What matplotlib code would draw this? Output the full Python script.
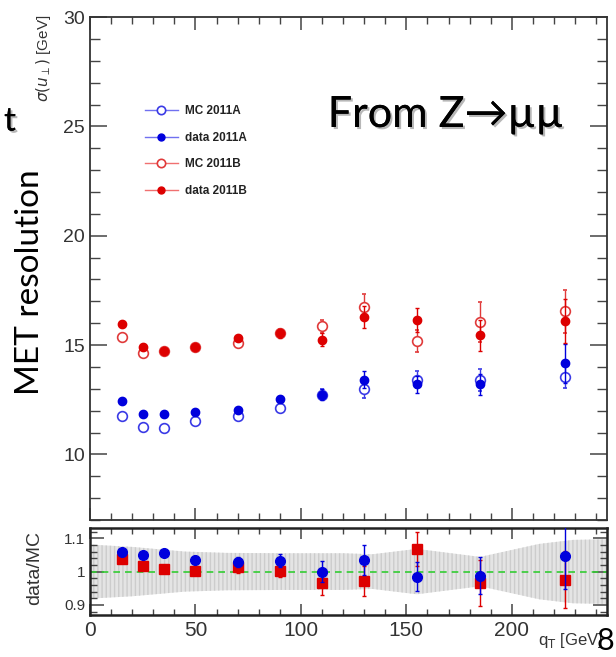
import matplotlib
matplotlib.use("Agg")
import matplotlib.pyplot as plt
import matplotlib.patheffects as pe
from matplotlib.lines import Line2D
from matplotlib.ticker import MultipleLocator

plt.rcParams['font.family'] = ['Liberation Sans', 'DejaVu Sans']

# bin centres in q_T [GeV]
qt = [15, 25, 35, 50, 70, 90, 110, 130, 155, 185, 225]

# sigma(u_perp) [GeV]
mc_a = [11.75, 11.26, 11.22, 11.55, 11.75, 12.10, 12.74, 12.97, 13.42, 13.39, 13.55]
mc_a_err = [0.05, 0.05, 0.05, 0.05, 0.08, 0.12, 0.25, 0.40, 0.40, 0.50, 0.50]
data_a = [12.43, 11.84, 11.84, 11.95, 12.04, 12.53, 12.74, 13.42, 13.20, 13.20, 14.17]
data_a_err = [0.05, 0.05, 0.05, 0.05, 0.08, 0.12, 0.25, 0.40, 0.40, 0.50, 0.90]
mc_b = [15.37, 14.66, 14.72, 14.90, 15.11, 15.55, 15.86, 16.74, 15.19, 16.06, 16.54]
mc_b_err = [0.05, 0.08, 0.08, 0.08, 0.10, 0.20, 0.30, 0.60, 0.50, 0.90, 1.00]
data_b = [15.95, 14.90, 14.72, 14.90, 15.31, 15.54, 15.25, 16.27, 16.15, 15.45, 16.09]
data_b_err = [0.05, 0.08, 0.08, 0.08, 0.10, 0.20, 0.30, 0.50, 0.55, 0.70, 1.00]

# data/MC ratios
ratio_a = [1.058, 1.051, 1.055, 1.035, 1.028, 1.033, 1.000, 1.035, 0.985, 0.988, 1.048]
ratio_a_err = [0.005, 0.005, 0.005, 0.006, 0.015, 0.020, 0.032, 0.045, 0.043, 0.056, 0.100]
ratio_b = [1.038, 1.018, 1.008, 1.001, 1.013, 1.003, 0.966, 0.971, 1.068, 0.966, 0.976]
ratio_b_err = [0.006, 0.006, 0.006, 0.008, 0.016, 0.020, 0.035, 0.045, 0.050, 0.070, 0.085]

# systematic band around 1
band_q = [0, 20, 45, 65, 92, 120, 134, 155, 185, 213, 229, 245]
band_half = [0.081, 0.074, 0.060, 0.056, 0.055, 0.055, 0.052, 0.068, 0.044, 0.083, 0.095, 0.097]

BLUE = '#0000dd'
BLUE_MC = '#3a3ae6'
RED = '#dd0000'
RED_MC = '#e03a3a'
TXT = '#333333'

fig = plt.figure(figsize=(6.16, 6.57), dpi=100)
ax = fig.add_axes([0.146, 0.2085, 0.839, 0.7655])
axr = fig.add_axes([0.146, 0.064, 0.839, 0.132])

# upper panel
ax.errorbar(qt, mc_a, yerr=mc_a_err, fmt='o', ms=7, mfc='white', mec=BLUE_MC,
            mew=1.2, ecolor=BLUE_MC, elinewidth=1, capsize=1.5, zorder=3)
ax.errorbar(qt, data_a, yerr=data_a_err, fmt='o', ms=6, color=BLUE,
            elinewidth=1, capsize=1.5, zorder=4)
ax.errorbar(qt, mc_b, yerr=mc_b_err, fmt='o', ms=7, mfc='white', mec=RED_MC,
            mew=1.2, ecolor=RED_MC, elinewidth=1, capsize=1.5, zorder=3)
ax.errorbar(qt, data_b, yerr=data_b_err, fmt='o', ms=6, color=RED,
            elinewidth=1, capsize=1.5, zorder=4)

ax.set_xlim(0, 245)
ax.set_ylim(7, 30)
ax.xaxis.set_major_locator(MultipleLocator(50))
ax.xaxis.set_minor_locator(MultipleLocator(10))
ax.yaxis.set_major_locator(MultipleLocator(5))
ax.yaxis.set_minor_locator(MultipleLocator(1))
ax.tick_params(which='both', direction='in', top=True, right=True,
               labelbottom=False, labelsize=14, labelcolor=TXT, color='#444444')
ax.tick_params(axis='y', which='major', length=12, width=1.1)
ax.tick_params(axis='y', which='minor', length=7, width=1)
ax.tick_params(axis='x', which='major', length=9, width=1.1)
ax.tick_params(axis='x', which='minor', length=5, width=1)
ax.set_yticks([10, 15, 20, 25, 30])
for s in ax.spines.values():
    s.set_linewidth(1.3)
    s.set_color('#333333')

fig.text(0.071, 0.978, r'$\sigma(u_{\perp})$ [GeV]', rotation=90, ha='center',
         va='top', fontsize=11, color=TXT)

handles = [
    Line2D([], [], color='#7070f0', lw=1, marker='o', ms=6, mfc='white', mec=BLUE_MC, mew=1.2),
    Line2D([], [], color='#7070f0', lw=1, marker='o', ms=5, mfc=BLUE, mec=BLUE),
    Line2D([], [], color='#f07070', lw=1, marker='o', ms=6, mfc='white', mec=RED_MC, mew=1.2),
    Line2D([], [], color='#f07070', lw=1, marker='o', ms=5, mfc=RED, mec=RED),
]
labels = ['MC 2011A', 'data 2011A', 'MC 2011B', 'data 2011B']
leg = ax.legend(handles, labels, loc='upper left', bbox_to_anchor=(0.095, 0.837),
                frameon=False, handlelength=2.8, handletextpad=0.6,
                labelspacing=1.25, borderpad=0, prop={'weight': 'bold', 'size': 8.5})
for t in leg.get_texts():
    t.set_color('#222222')

# ratio panel
axr.fill_between(band_q, [1 - h for h in band_half], [1 + h for h in band_half],
                 facecolor='#e4e4e4', edgecolor='#cccccc', hatch='||||', lw=0, zorder=1)
axr.axhline(1, color='#33cc33', ls='--', lw=1.2, dashes=(4, 3), zorder=2)
axr.errorbar(qt, ratio_a, yerr=ratio_a_err, fmt='o', ms=7, color=BLUE,
             elinewidth=1, capsize=1.5, zorder=4)
axr.errorbar(qt, ratio_b, yerr=ratio_b_err, fmt='s', ms=6.5, color=RED,
             elinewidth=1, capsize=1.5, zorder=3)
axr.set_xlim(0, 245)
axr.set_ylim(0.87, 1.13)
axr.xaxis.set_major_locator(MultipleLocator(50))
axr.xaxis.set_minor_locator(MultipleLocator(10))
axr.set_yticks([0.9, 1.0, 1.1])
axr.set_yticklabels(['0.9', '1', '1.1'])
axr.yaxis.set_minor_locator(MultipleLocator(0.02))
axr.tick_params(which='both', direction='in', top=True, right=True,
                labelcolor=TXT, color='#444444')
axr.tick_params(axis='x', labelsize=15, pad=4)
axr.tick_params(axis='y', labelsize=11)
axr.tick_params(axis='y', which='major', length=10, width=1.1)
axr.tick_params(axis='y', which='minor', length=5, width=1)
axr.tick_params(axis='x', which='major', length=8, width=1.1)
axr.tick_params(axis='x', which='minor', length=4, width=1)
for s in axr.spines.values():
    s.set_linewidth(1.8)
    s.set_color('#222222')

fig.text(0.057, 0.136, 'data/MC', rotation=90, ha='center', va='center',
         fontsize=14, color=TXT)
fig.text(0.873, 0.025, r'q$_{\mathrm{T}}$ [GeV]', ha='left', va='center',
         fontsize=12, color=TXT)

# slide annotations
shadow = [pe.withSimplePatchShadow(offset=(1.5, -1.5), shadow_rgbFace='#888888', alpha=0.6),
          pe.Normal()]
fig.text(0.049, 0.570, 'MET resolution', rotation=90, ha='center', va='center',
         fontsize=24, family=['Lato', 'DejaVu Sans'], color='black')
fig.text(0.026, 0.815, 't', ha='right', va='center', fontsize=24,
         family=['Lato', 'DejaVu Sans'], color='black', path_effects=shadow)
fig.text(0.723, 0.825, 'From Z\u2192\u00b5\u00b5', ha='center', va='center', fontsize=31,
         family=['Lato', 'DejaVu Sans'], color='black', path_effects=shadow)
fig.text(0.982, 0.024, '8', ha='center', va='center', fontsize=22,
         family=['Lato', 'DejaVu Sans'], color='black')

fig.savefig('out.png', dpi=100)
